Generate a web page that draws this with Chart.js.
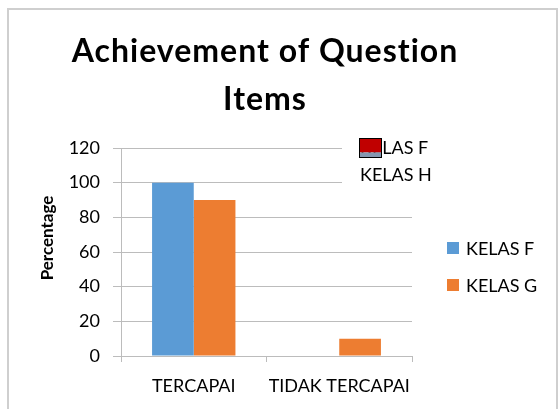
<!DOCTYPE html>
<html>
<head>
<meta charset="utf-8">
<script src="https://cdn.jsdelivr.net/npm/chart.js@4.4.1/dist/chart.umd.min.js"></script>
<style>
  html,body{margin:0;padding:0;background:#fff;}
  #wrap{width:559px;height:409px;position:relative;}
</style>
</head>
<body>
<div id="wrap"><canvas id="c" width="559" height="409"></canvas></div>
<script>
// data
const categories = ['TERCAPAI', 'TIDAK TERCAPAI'];
const kelasF = [100, 0];
const kelasG = [90, 10];
const yTicks = [0, 20, 40, 60, 80, 100, 120];
const titleLines = ['Achievement of Question', 'Items'];
const yTitle = 'Percentage';
// leftover legend box sitting over the top of the plot
const strayLegend = ['KELAS F', 'KELAS H'];

const FONT = 'Lato, "Noto Sans", sans-serif';
const GRID = '#bcbcbc';

// border, title, y title, legends
const decor = {
  id: 'decor',
  beforeDraw(chart){
    const ctx = chart.ctx;
    ctx.save();
    ctx.strokeStyle = '#cfcfcf';
    ctx.lineWidth = 2;
    ctx.strokeRect(8, 9, 549, 430);
    ctx.restore();
  },
  afterDraw(chart){
    const ctx = chart.ctx;
    ctx.save();
    // title
    ctx.fillStyle = '#000';
    ctx.textAlign = 'center';
    ctx.textBaseline = 'alphabetic';
    ctx.font = 'bold 32px ' + FONT;
    ctx.letterSpacing = '1px';
    titleLines.forEach((t,i)=> ctx.fillText(t, 265, 62 + i*48));

    // y axis title
    ctx.save();
    ctx.translate(48, 238);
    ctx.rotate(-Math.PI/2);
    ctx.font = 'bold 17px ' + FONT;
    ctx.letterSpacing = '0px';
    ctx.textBaseline = 'middle';
    ctx.fillText(yTitle, 0, 0);
    ctx.restore();
    ctx.letterSpacing = '0px';

    // right legend from datasets
    ctx.font = '18px ' + FONT;
    ctx.textAlign = 'left';
    ctx.textBaseline = 'middle';
    chart.data.datasets.forEach((ds,i)=>{
      const y = 248 + i*37;
      ctx.fillStyle = ds.backgroundColor;
      ctx.fillRect(447, y-6, 12, 12);
      ctx.fillStyle = '#000';
      ctx.fillText(ds.label, 466, y+1);
    });

    // stray legend box
    ctx.fillStyle = '#fff';
    ctx.fillRect(342, 138, 100, 52);
    ctx.fillStyle = '#000';
    ctx.textBaseline = 'alphabetic';
    ctx.fillText(strayLegend[0], 360, 154);
    ctx.fillText(strayLegend[1], 360, 181);
    ctx.fillStyle = '#c00000';
    ctx.fillRect(359.5, 138.5, 22, 14);
    ctx.fillStyle = '#8497b0';
    ctx.fillRect(359.5, 152.5, 22, 5);
    ctx.strokeStyle = '#000';
    ctx.lineWidth = 1;
    ctx.strokeRect(359.5, 138.5, 22, 19);
    ctx.restore();
  }
};

new Chart(document.getElementById('c'), {
  type: 'bar',
  data: {
    labels: categories,
    datasets: [
      {label: 'KELAS F', data: kelasF, backgroundColor: '#5b9bd5'},
      {label: 'KELAS G', data: kelasG, backgroundColor: '#ed7d31'}
    ]
  },
  options: {
    responsive: false,
    animation: false,
    layout: {padding: {left: 10, right: 147, top: 148, bottom: 0}},
    datasets: {bar: {categoryPercentage: 0.573, barPercentage: 1}},
    plugins: {legend: {display: false}, title: {display: false}, tooltip: {enabled: false}},
    scales: {
      x: {
        afterFit: s => { s.height = 53; },
        grid: {drawOnChartArea: false, drawTicks: true, tickLength: 6, color: GRID, offset: true},
        border: {color: GRID},
        ticks: {color: '#000', font: {family: FONT, size: 18}, padding: 13, maxRotation: 0}
      },
      y: {
        min: 0, max: 120,
        afterFit: s => { s.width = 111; },
        afterBuildTicks: s => { s.ticks = yTicks.map(v => ({value: v})); },
        grid: {color: GRID, tickLength: 8},
        border: {color: GRID},
        ticks: {color: '#000', font: {family: FONT, size: 18}, padding: 13}
      }
    }
  },
  plugins: [decor]
});
</script>
</body>
</html>
